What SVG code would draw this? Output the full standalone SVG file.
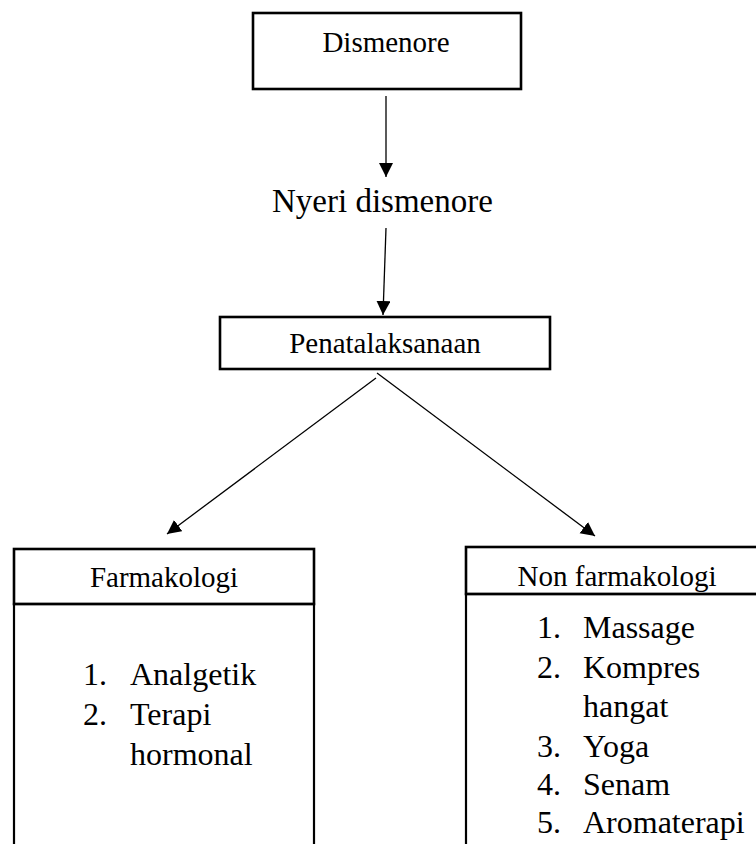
<svg xmlns="http://www.w3.org/2000/svg" width="756" height="844" viewBox="0 0 756 844">
<style>
.box{fill:#fff;stroke:#000;stroke-width:2.6}
.cell{fill:none;stroke:#000;stroke-width:2.2}
.h{font-size:29px;text-anchor:middle}
.l{font-size:32px}
.c{fill:none;stroke:#000;stroke-width:1.3}
</style>
<defs>
<marker id="ah" markerUnits="userSpaceOnUse" markerWidth="15" markerHeight="15" refX="14" refY="7" orient="auto">
<path d="M0,0 L14,7 L0,14 Z" fill="#000"/>
</marker>
<clipPath id="clipR"><rect x="466" y="547" width="300" height="46"/></clipPath>
</defs>
<rect width="756" height="844" fill="#fff"/>
<g id="connectors">
<line class="c" x1="386" y1="96" x2="386" y2="177" marker-end="url(#ah)"/>
<line class="c" x1="386" y1="228" x2="383" y2="315" marker-end="url(#ah)"/>
<line class="c" x1="376" y1="378" x2="167" y2="534" marker-end="url(#ah)"/>
<line class="c" x1="377" y1="373" x2="595" y2="536" marker-end="url(#ah)"/>
</g>
<g font-family="Liberation Serif, Times New Roman, DejaVu Serif, serif" fill="#000">
<g id="dismenore">
<rect class="box" x="253" y="13" width="268" height="76"/>
<text class="h" x="386" y="52">Dismenore</text>
</g>
<g id="nyeri">
<text x="272" y="212" font-size="33">Nyeri dismenore</text>
</g>
<g id="penatalaksanaan">
<rect class="box" x="220" y="317" width="330" height="52"/>
<text class="h" x="385" y="353">Penatalaksanaan</text>
</g>
<g id="farmakologi">
<rect class="box" x="14" y="549" width="300" height="55"/>
<rect class="cell" x="14" y="604" width="300" height="260"/>
<text class="h" x="164" y="587">Farmakologi</text>
<text class="l" x="83" y="685">1.</text>
<text class="l" x="130" y="685">Analgetik</text>
<text class="l" x="83" y="725">2.</text>
<text class="l" x="130" y="725">Terapi</text>
<text class="l" x="130" y="765">hormonal</text>
</g>
<g id="non-farmakologi">
<rect class="box" x="466" y="547" width="310" height="47"/>
<rect class="cell" x="466" y="594" width="310" height="270"/>
<text class="h" x="617" y="586" clip-path="url(#clipR)">Non farmakologi</text>
<text class="l" x="537" y="638">1.</text>
<text class="l" x="583" y="638">Massage</text>
<text class="l" x="537" y="678">2.</text>
<text class="l" x="583" y="678">Kompres</text>
<text class="l" x="583" y="717">hangat</text>
<text class="l" x="537" y="757">3.</text>
<text class="l" x="583" y="757">Yoga</text>
<text class="l" x="537" y="795">4.</text>
<text class="l" x="583" y="795">Senam</text>
<text class="l" x="537" y="833">5.</text>
<text class="l" x="583" y="833">Aromaterapi</text>
</g>
</g>
</svg>
